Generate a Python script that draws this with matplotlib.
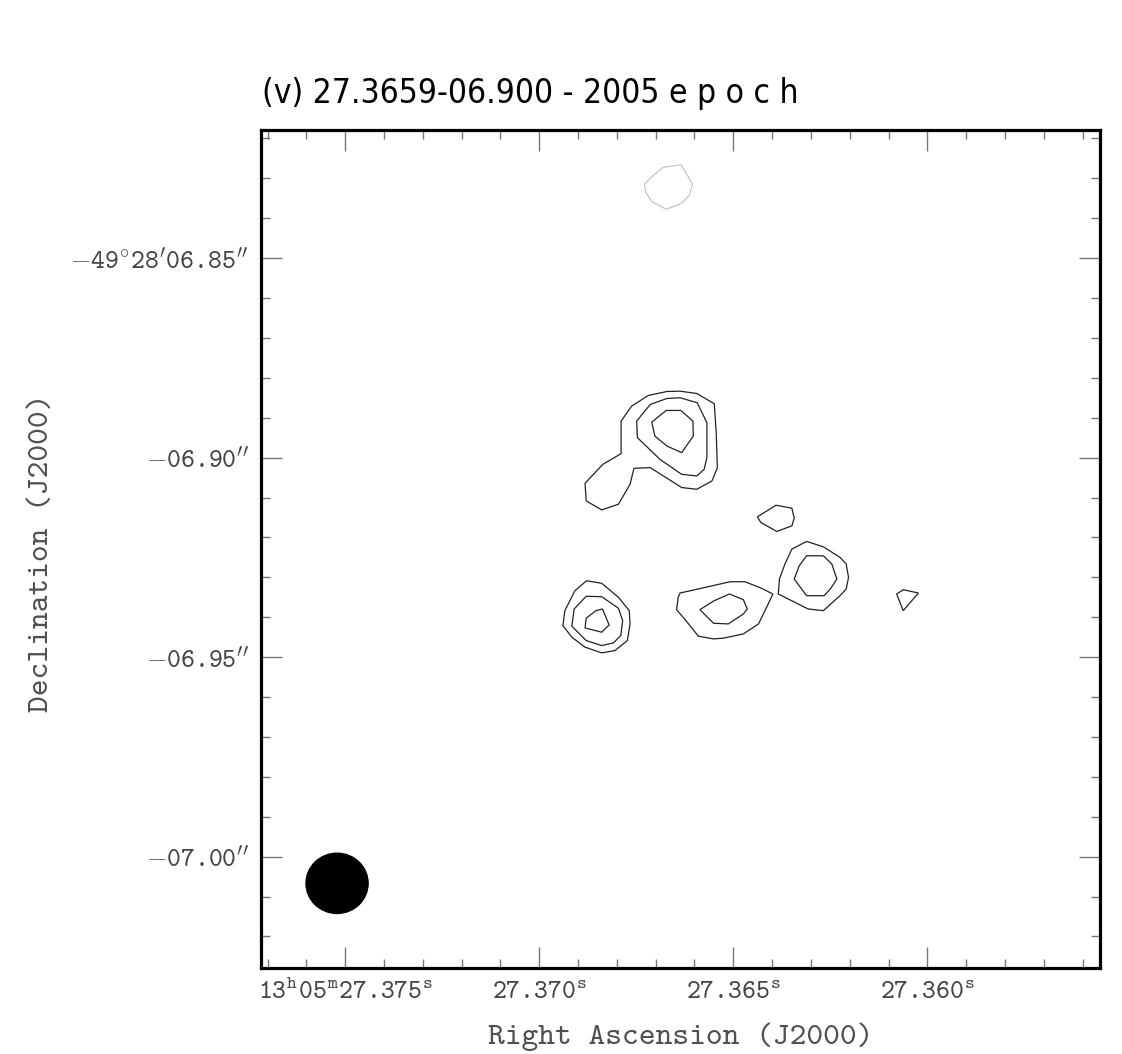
import matplotlib
matplotlib.use("Agg")
import matplotlib.pyplot as plt
from matplotlib import font_manager as fm
from matplotlib.patches import Ellipse
from matplotlib.ticker import FixedLocator, MultipleLocator

plt.rcParams['mathtext.fontset'] = 'custom'
plt.rcParams['mathtext.rm'] = 'cmtt10'
plt.rcParams['mathtext.it'] = 'cmtt10'
plt.rcParams['mathtext.tt'] = 'cmtt10'
plt.rcParams['mathtext.fallback'] = 'cm'

# ---- data: contour polygons in RA (s, 13h05m) and Dec offset (arcsec, -49d28') ----
gray_ra = [27.36729, 27.36710, 27.36680, 27.36635, 27.36626, 27.36605, 27.36613, 27.36633, 27.36673, 27.36710, 27.36725]
gray_dec = [-6.8315, -6.8296, -6.82725, -6.8266, -6.82793, -6.8315, -6.83418, -6.83625, -6.83775, -6.83585, -6.8336]

a1_ra = [27.36789, 27.36762, 27.36719, 27.36671, 27.36637, 27.36594, 27.36549, 27.36544, 27.36541, 27.36555, 27.36594,
         27.36633, 27.36714, 27.36756, 27.36766, 27.36796, 27.36839, 27.36879, 27.36882, 27.36836, 27.36789]
a1_dec = [-6.89085, -6.8871, -6.88443, -6.88343, -6.88335, -6.88393, -6.8865, -6.89375, -6.9025, -6.90585, -6.90793,
          -6.9075, -6.9025, -6.90268, -6.90668, -6.91168, -6.9131, -6.91085, -6.90643, -6.90168, -6.899]
a2_ra = [27.36749, 27.36714, 27.36671, 27.36637, 27.36593, 27.36568, 27.36568, 27.36575, 27.36594, 27.36633, 27.36689, 27.36747]
a2_dec = [-6.89085, -6.88668, -6.88518, -6.885, -6.88625, -6.89125, -6.9, -6.90293, -6.9046, -6.90418, -6.90043, -6.895]
a3_ra = [27.36710, 27.36673, 27.36635, 27.36604, 27.36603, 27.36633, 27.36671, 27.36702]
a3_dec = [-6.8911, -6.88818, -6.88818, -6.89085, -6.8946, -6.89875, -6.8971, -6.8946]

b1_ra = [27.36878, 27.36839, 27.36796, 27.36768, 27.36766, 27.36773, 27.36805, 27.36839, 27.36882, 27.36916, 27.36939, 27.36934, 27.36908]
b1_dec = [-6.93085, -6.9315, -6.935, -6.93835, -6.94168, -6.94585, -6.94835, -6.94893, -6.9475, -6.945, -6.9421, -6.93835, -6.93335]
b2_ra = [27.36879, 27.36839, 27.36796, 27.36785, 27.36790, 27.36809, 27.36839, 27.36879, 27.36916, 27.36910]
b2_dec = [-6.93475, -6.93485, -6.93775, -6.94085, -6.9446, -6.94643, -6.9471, -6.94585, -6.94225, -6.93793]
b3_ra = [27.36879, 27.36854, 27.36837, 27.36820, 27.36839, 27.36882]
b3_dec = [-6.94025, -6.93835, -6.93793, -6.94193, -6.94375, -6.94268]

c1_ra = [27.36637, 27.36560, 27.36508, 27.36470, 27.36427, 27.36398, 27.36410, 27.36435, 27.36474, 27.36526, 27.36551,
         27.36590, 27.36620, 27.36646, 27.36642]
c1_dec = [-6.93393, -6.93225, -6.9311, -6.9311, -6.93275, -6.93418, -6.93668, -6.94168, -6.94418, -6.94525, -6.94543,
          -6.94475, -6.9411, -6.9381, -6.935]
c2_ra = [27.36586, 27.36549, 27.36510, 27.36474, 27.36464, 27.36474, 27.36513, 27.36551]
c2_dec = [-6.9381, -6.93585, -6.93418, -6.9356, -6.93793, -6.93918, -6.94168, -6.9415]

d1_ra = [27.36349, 27.36311, 27.36268, 27.36225, 27.36209, 27.36203, 27.36209, 27.36225, 27.36268, 27.36307, 27.36384, 27.36381, 27.36367]
d1_dec = [-6.92293, -6.921, -6.92235, -6.925, -6.92668, -6.93, -6.93293, -6.9346, -6.93835, -6.93793, -6.93418, -6.93043, -6.92668]
d2_ra = [27.36311, 27.36268, 27.36246, 27.36233, 27.36250, 27.36266, 27.36311, 27.36343, 27.36330]
d2_dec = [-6.9246, -6.9246, -6.92668, -6.93043, -6.93293, -6.9346, -6.9346, -6.93043, -6.9271]

e1_ra = [27.36438, 27.36390, 27.36349, 27.36343, 27.36349, 27.36388, 27.36429]
e1_dec = [-6.91485, -6.91193, -6.91268, -6.91518, -6.9171, -6.9185, -6.91625]

f1_ra = [27.36079, 27.36062, 27.36023, 27.36062]
f1_dec = [-6.93418, -6.9331, -6.93393, -6.93835]

beam_ra = 27.37521
beam_dec = -7.00668
beam_w = 0.0016     # s of RA
beam_h = 0.0151     # arcsec

x_major = [27.375, 27.370, 27.365, 27.360]
x_labels = [r"$\mathrm{13}^{\mathrm{h}}\mathrm{05}^{\mathrm{m}}\mathrm{27.375}^{\mathrm{s}}$",
            r"$\mathrm{27.370}^{\mathrm{s}}$", r"$\mathrm{27.365}^{\mathrm{s}}$", r"$\mathrm{27.360}^{\mathrm{s}}$"]
y_major = [-6.85, -6.90, -6.95, -7.00]
y_labels = [r"$-\mathrm{49}^{\circ}\mathrm{28}'\mathrm{06.85}''$", r"$-\mathrm{06.90}''$",
            r"$-\mathrm{06.95}''$", r"$-\mathrm{07.00}''$"]

title = "(v) 27.3659-06.900 - 2005 e p o c h"
xlabel = "Right Ascension (J2000)"
ylabel = "Declination (J2000)"

# ---- pick a narrow sans font for the title ----
names = {f.name for f in fm.fontManager.ttflist}
title_kw = dict(family=['DejaVu Sans'], fontsize=21)
if 'Liberation Sans Narrow' in names:
    title_kw = dict(family=['Liberation Sans Narrow', 'DejaVu Sans'], fontsize=28)
else:
    cond = [f for f in fm.fontManager.ttflist if 'Condensed' in f.fname and 'Bold' not in f.fname
            and 'Oblique' not in f.fname and 'DejaVuSans' in f.fname.replace(' ', '')]
    if cond:
        title_kw = dict(fontproperties=fm.FontProperties(fname=cond[0].fname, size=24))
    elif 'Roboto' in names:
        title_kw = dict(family=['Roboto', 'DejaVu Sans'], fontsize=24)

# ---- figure ----
W, H = 1122, 1054
fig = plt.figure(figsize=(W / 100, H / 100), dpi=100)
ax = fig.add_axes([261 / W, 1 - 968 / H, (1100 - 261) / W, (968 - 130) / H])

line_col = '#222222'
for xs, ys in [(a1_ra, a1_dec), (a2_ra, a2_dec), (a3_ra, a3_dec),
               (b1_ra, b1_dec), (b2_ra, b2_dec), (b3_ra, b3_dec),
               (c1_ra, c1_dec), (c2_ra, c2_dec),
               (d1_ra, d1_dec), (d2_ra, d2_dec),
               (e1_ra, e1_dec), (f1_ra, f1_dec)]:
    ax.fill(xs, ys, facecolor='none', edgecolor=line_col, linewidth=0.9)
ax.fill(gray_ra, gray_dec, facecolor='none', edgecolor='#c4c4c4', linewidth=0.9)

ax.add_patch(Ellipse((beam_ra, beam_dec), beam_w, beam_h, facecolor='black', edgecolor='black'))

ax.set_xlim(27.37717, 27.35555)
ax.set_ylim(-7.0279, -6.8179)

ax.xaxis.set_major_locator(FixedLocator(x_major))
ax.xaxis.set_minor_locator(MultipleLocator(0.001))
ax.yaxis.set_major_locator(FixedLocator(y_major))
ax.yaxis.set_minor_locator(MultipleLocator(0.01))
ax.set_xticklabels(x_labels)
ax.set_yticklabels(y_labels)

tick_col = '#777777'
ax.tick_params(which='both', direction='in', top=True, right=True, color=tick_col, width=1.0,
               labelcolor='#444444', labelsize=19)
ax.tick_params(which='major', length=15)
ax.tick_params(which='minor', length=6.5)
ax.tick_params(axis='x', which='major', pad=8)
ax.tick_params(axis='y', which='major', pad=9)

for s in ax.spines.values():
    s.set_linewidth(2.3)
    s.set_color('black')

fig.text(680.5 / W, 1 - 1037 / H, xlabel, ha='center', va='center', fontsize=23,
         family=['cmtt10', 'DejaVu Serif'], color='#505050')
fig.text(42 / W, 1 - 553 / H, ylabel, ha='center', va='center', rotation=90, fontsize=23,
         family=['cmtt10', 'DejaVu Serif'], color='#505050')
fig.text(262 / W, 1 - 103 / H, title, ha='left', va='baseline', color='black', **title_kw)

fig.savefig('out.png', dpi=100)
